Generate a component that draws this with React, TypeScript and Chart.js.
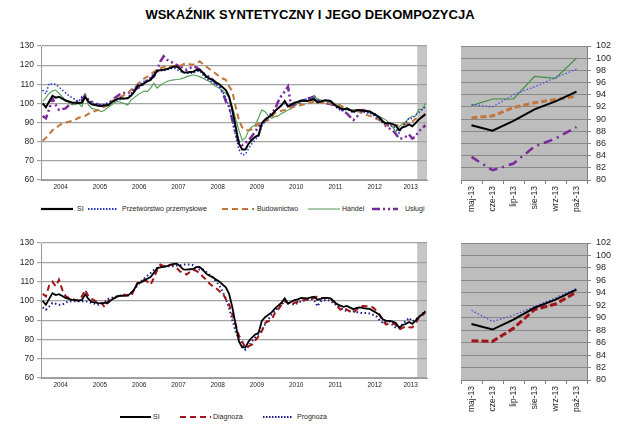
import React, { useEffect, useRef } from 'react';
import { Chart, registerables } from 'chart.js';
Chart.register(...registerables);

// ---------- DATA ----------
const years = ['2004', '2005', '2006', '2007', '2008', '2009', '2010', '2011', '2012', '2013'];
// centre of each year's group of monthly categories (Jan 2004 = 0 ... Oct 2013 = 117)
const yearCenters = [5.5, 17.5, 29.5, 41.5, 53.5, 65.5, 77.5, 89.5, 101.5, 112.5];
const lastMonths = ['maj-13', 'cze-13', 'lip-13', 'sie-13', 'wrz-13', 'paź-13'];

const si = [
  100, 98, 101, 104, 103, 103.5, 102.5, 101.5, 101, 100.5, 100.4, 100.2,
  100.5, 103.4, 101, 99.5, 99.2, 98.8, 98.7, 99, 99, 100.5, 101.5, 102.5,
  102.7, 102.6, 102.7, 104, 106, 109, 109.5, 110.5, 111.5, 112.3, 114.5, 117,
  117.4, 117.6, 118, 118.6, 119.2, 119.3, 118, 116.3, 116.2, 116.4, 116.5, 117.5,
  117.6, 116, 114.1, 113, 112.3, 111, 110, 108.5, 107, 103.6, 96.6, 87.8,
  79, 75.9, 75.9, 79, 81, 82.6, 83.4, 89.6, 91.5, 92.8, 94, 96,
  97.5, 99, 101.3, 98.5, 99.5, 100.4, 100.8, 101.5, 101.4, 101.3, 101.8, 102.2,
  100.6, 101, 101.5, 101.5, 101.3, 99.7, 98.3, 97.5, 96.9, 97.4, 96.5, 95.7,
  96.4, 96.6, 96.2, 96, 95.8, 94.8, 93.8, 92.7, 90.5, 89.6, 89.6, 89.2,
  88.5, 86, 87.5, 88, 89.0, 88.1, 89.7, 91.6, 92.9, 94.5,
];
const przetworstwo = [
  107, 105, 110.5, 110, 110, 108.5, 107, 105.5, 104, 103, 102, 101,
  103.5, 102.5, 101.5, 100.5, 99.5, 99.7, 99.2, 99.5, 100.5, 101, 101.5, 102,
  102, 102.5, 103, 105, 108, 109.7, 110.5, 111.5, 112.3, 113.5, 115.8, 116.5,
  117, 117.2, 117.6, 118, 118.5, 117.8, 116.7, 116, 115.8, 115.5, 116, 116.5,
  117, 115, 113, 112, 111, 110, 108.5, 106, 103, 98, 91, 83,
  76, 73, 73.5, 76.5, 79, 81, 83, 88, 90.5, 92.5, 94, 96,
  97.5, 99, 100, 98.5, 99, 100, 101, 101.5, 102, 102.5, 103, 102.5,
  101.5, 101, 101.5, 102, 101, 99.5, 97.5, 96.5, 96, 97, 96, 95,
  96.5, 96, 95.5, 95, 95, 94, 92.5, 91.5, 89.5, 89, 88.5, 88,
  87, 84.5, 88, 90, 92.4, 92.0, 94.0, 95.3, 96.8, 98.2,
];
const budownictwo = [
  80.5, 82, 84, 86, 87, 88.5, 89.5, 90, 90.4, 91, 91.5, 92.5,
  93, 93.5, 94.5, 95.5, 96, 96.5, 97.5, 98.3, 99.5, 101, 102, 102.7,
  103.5, 104.5, 105.5, 107, 108.5, 110, 111.5, 113, 114, 115, 116.5, 117.5,
  118.4, 119, 119.7, 119.5, 119.5, 119.3, 119.5, 120.5, 121, 120.5, 120.2, 121,
  122, 120.5, 119.3, 118, 116.7, 115.5, 114, 113, 112.3, 109, 106.2, 98.3,
  91.5, 87.5, 86, 86, 86.5, 87.8, 89.5, 90.4, 90.8, 91.3, 93, 95,
  95.7, 96.2, 96.6, 97.5, 98, 98.3, 98.8, 99.2, 99.5, 100, 100.5, 101,
  100.8, 100.5, 100.2, 100, 100, 99.8, 99.7, 99, 98, 97, 96.6, 96.2,
  95.9, 95.7, 95, 94, 93.5, 93, 92, 91.3, 90, 88.7, 88, 87.8,
  88.5, 88.7, 88.7, 89.5, 90.2, 90.5, 91.9, 92.7, 93.2, 93.8,
];
const handel = [
  101, 103, 105.3, 106.5, 107, 105.3, 103.5, 101.8, 100.5, 99.2, 99.5, 100,
  98.3, 104.4, 99.2, 97.4, 97, 96.5, 95.7, 96.6, 98, 99.2, 100.5, 101,
  100.5, 100, 99.2, 101.8, 103, 104.4, 105.5, 106.5, 106.2, 108, 110.6, 108,
  109.5, 110.6, 111.5, 112, 112.3, 112.5, 112.8, 113.2, 114, 114.5, 115, 114.5,
  114, 113.2, 112.3, 111.5, 110, 108.8, 108, 106.5, 105.3, 103, 98.3, 92,
  86, 80.8, 82, 86, 87.8, 88.7, 92.5, 96.6, 95.7, 93.5, 92.2, 93.1,
  93.5, 94.8, 95.5, 96.5, 97.4, 98.5, 100, 101, 101, 101.5, 101.8, 103.6,
  102.5, 101.8, 101.5, 101, 100.5, 100, 99.2, 98, 97.4, 97.2, 96.9, 96.8,
  96.7, 96.6, 96.2, 95.7, 95, 94.5, 94, 93, 92.2, 91.3, 89.6, 87.5,
  85.2, 87.8, 89.6, 90.5, 92.2, 93.3, 93.3, 97.0, 96.7, 100.0,
];
const uslugi = [
  93.4, 92.2, 97, 102.7, 99.2, 96.6, 97, 97.4, 99, 100, 100.5, 101.5,
  101.8, 104.4, 101.8, 101, 100, 99.3, 98.7, 99.2, 100, 101.2, 102.7, 104,
  105.3, 105.5, 105.3, 106, 107, 108, 108.8, 110.5, 112.3, 113, 114, 117.6,
  122, 124.6, 122.8, 122, 121, 120, 119.3, 118.5, 117.6, 118.5, 119.3, 118.8,
  117.6, 115.8, 115, 113.5, 112.3, 110.5, 108.8, 106, 101, 98.3, 91.3, 84.3,
  80, 78.2, 79.5, 80.8, 83, 85.2, 87.8, 89.5, 91.3, 93, 94.8, 97,
  101, 104, 106.2, 108.8, 98.3, 99.5, 100, 100.8, 101.8, 102.5, 103, 103.6,
  102, 101, 100.5, 100, 99.7, 99.2, 98.5, 97.4, 96, 94.8, 93, 91.3,
  93, 94.8, 96.6, 96, 95.7, 94.8, 94, 92, 90.4, 88, 86.9, 86,
  84, 81.7, 81.7, 82.6, 83.8, 81.6, 82.7, 85.5, 86.8, 88.7,
];
const diagnoza = [
  103.6, 102.3, 108, 110, 107.5, 111, 105.8, 102.5, 101.5, 101, 100.5, 100,
  102.3, 105.8, 102.3, 101, 100.1, 99.5, 98.9, 96.6, 99.8, 101, 101.5, 102.3,
  102.9, 103.2, 103, 102.3, 105.8, 109.3, 109.5, 111, 110, 108.4, 111.9, 116,
  118.8, 118, 117.9, 118.8, 118.5, 117, 115.3, 114.5, 113.6, 115, 116.2, 115.5,
  114.4, 112.5, 111, 109, 107.5, 106.7, 105, 104, 101, 98, 93, 87.7,
  82, 79, 75.6, 76.5, 77.3, 79.5, 81.6, 84.2, 88.5, 89.5, 90.2, 93.7,
  95.5, 98, 99.8, 99, 98, 99, 99.5, 99.8, 100.6, 100.6, 100.8, 101.5,
  102.3, 101.5, 101.5, 101.5, 101, 99.8, 97.5, 95.4, 96.3, 95.5, 94.5, 93.7,
  95.5, 97.2, 97.3, 97.2, 97, 96.6, 95, 92.8, 89.5, 87.7, 88.5, 88.5,
  87.5, 85.1, 86, 86.8, 86.3, 86.2, 88.3, 91.3, 92.2, 94.1,
];
const prognoza = [
  96.6, 95.4, 97, 98.9, 98.5, 98, 98, 99, 99.8, 99.8, 99.8, 99.8,
  99.8, 99.8, 99.5, 98.9, 98.5, 98, 98.9, 99.5, 101, 101.5, 102, 102.3,
  102.8, 103.2, 103, 104, 105.8, 108, 110.1, 111.5, 113, 114.4, 116, 117,
  117.5, 117.9, 118, 118, 117.9, 118.3, 118.5, 118.8, 118.8, 118.8, 118.5, 117,
  116.2, 116.2, 115, 113.6, 112, 110.1, 108, 104.9, 101, 96.3, 90, 84.2,
  80, 77.3, 74.7, 76.5, 79, 81, 82.5, 85, 87.7, 90.5, 92.8, 94.6,
  96.5, 98, 99.8, 99.5, 98.5, 98, 99, 99.8, 100.2, 100.6, 101, 100.6,
  97.2, 99.8, 100.2, 100.6, 99.8, 98.9, 97.5, 96.3, 95.5, 94.6, 94.6, 94.6,
  94.2, 93.7, 93.7, 93.7, 93.5, 92.8, 92, 90, 88.5, 89, 89.3, 87.5,
  85.9, 86.5, 87.7, 89.5, 91.2, 89.4, 90.4, 91.8, 93.2, 94.7,
];

// ---------- HELPERS ----------
const FONT = "'Liberation Sans', Arial, sans-serif";
const TXT = '#262626';
const pts = (arr: number[]) => arr.map((y, i) => ({ x: i, y }));
const tail = (arr: number[]) => arr.slice(-lastMonths.length);

const bgPlugin = {
  id: 'bgfill',
  beforeDraw(chart: any, _args: any, opts: any) {
    const { ctx, chartArea } = chart;
    if (!chartArea) return;
    ctx.save();
    if (opts.panel) {
      ctx.fillStyle = opts.panel;
      ctx.fillRect(chartArea.left, chartArea.top, chartArea.right - chartArea.left, chartArea.bottom - chartArea.top);
    }
    if (opts.shadeFrom !== undefined) {
      const xs = chart.scales.x;
      const a = xs.getPixelForValue(opts.shadeFrom);
      const b = xs.getPixelForValue(opts.shadeTo);
      ctx.fillStyle = opts.shadeColor;
      ctx.fillRect(a, chartArea.top, b - a, chartArea.bottom - chartArea.top);
    }
    ctx.restore();
  },
};

function mainConfig(datasets: any[], topPad: number) {
  return {
    type: 'line',
    data: { datasets },
    options: {
      animation: false,
      responsive: false,
      devicePixelRatio: 1,
      layout: { padding: { left: 0, right: 13, top: topPad, bottom: 0 } },
      elements: { point: { radius: 0 }, line: { tension: 0 } },
      plugins: {
        legend: { display: false },
        tooltip: { enabled: false },
        bgfill: { shadeFrom: 114.5, shadeTo: 117.5, shadeColor: '#c6c6c6' },
      },
      scales: {
        x: {
          type: 'linear',
          min: -0.5,
          max: 117.5,
          afterBuildTicks: (s: any) => {
            s.ticks = yearCenters.map((v) => ({ value: v }));
          },
          afterFit: (s: any) => {
            s.height = 20;
          },
          ticks: {
            autoSkip: false,
            maxRotation: 0,
            padding: 3,
            color: TXT,
            font: { family: FONT, size: 6.5 },
            callback: (v: number) => {
              const k = yearCenters.indexOf(v);
              return k >= 0 ? years[k] : '';
            },
          },
          grid: { display: false, drawTicks: false },
          border: { color: '#9a9a9a', width: 1 },
        },
        y: {
          min: 60,
          max: 130,
          afterFit: (s: any) => {
            s.width = 41;
          },
          ticks: { stepSize: 10, autoSkip: false, padding: 3, color: TXT, font: { family: FONT, size: 8.5 } },
          grid: { color: '#a3a3a3', lineWidth: 1.2, tickLength: 4 },
          border: { color: '#9a9a9a', width: 1 },
        },
      },
    },
    plugins: [bgPlugin],
  };
}

function sideConfig(datasets: any[], topPad: number) {
  return {
    type: 'line',
    data: { labels: lastMonths, datasets },
    options: {
      animation: false,
      responsive: false,
      devicePixelRatio: 1,
      layout: { padding: { left: 21, right: 0, top: topPad, bottom: 0 } },
      elements: { point: { radius: 0 }, line: { tension: 0 } },
      plugins: {
        legend: { display: false },
        tooltip: { enabled: false },
        bgfill: { panel: '#bdbdbd' },
      },
      scales: {
        x: {
          type: 'category',
          offset: true,
          afterFit: (s: any) => {
            s.height = 45;
          },
          ticks: {
            autoSkip: false,
            maxRotation: 90,
            minRotation: 90,
            padding: 2,
            color: TXT,
            font: { family: FONT, size: 8.5 },
          },
          grid: { offset: true, drawOnChartArea: false, tickLength: 4, color: '#808080' },
          border: { color: '#808080', width: 1 },
        },
        y: {
          position: 'right',
          min: 80,
          max: 102,
          afterFit: (s: any) => {
            s.width = 53;
          },
          ticks: { stepSize: 2, autoSkip: false, padding: 5, color: TXT, font: { family: FONT, size: 9 } },
          grid: { color: '#8a8a8a', lineWidth: 1, tickLength: 4 },
          border: { color: '#808080', width: 1 },
        },
      },
    },
    plugins: [bgPlugin],
  };
}

function ChartCanvas({ config, left, top, width, height }: any) {
  const ref = useRef<HTMLCanvasElement>(null);
  useEffect(() => {
    const chart = new Chart(ref.current as HTMLCanvasElement, config as any);
    return () => chart.destroy();
  }, []);
  return (
    <canvas
      ref={ref}
      width={width}
      height={height}
      style={{ position: 'absolute', left, top, width, height }}
    />
  );
}

function LegendItem({ x1, x2, y, color, dash, w, label, tx }: any) {
  return (
    <>
      <svg
        width={x2 - x1}
        height={8}
        style={{ position: 'absolute', left: x1, top: y - 4, overflow: 'visible' }}
      >
        <line x1={0} y1={4} x2={x2 - x1} y2={4} stroke={color} strokeWidth={w} strokeDasharray={dash} />
      </svg>
      <span
        style={{
          position: 'absolute',
          left: tx,
          top: y - 5,
          fontSize: 7,
          lineHeight: '10px',
          fontFamily: FONT,
          color: TXT,
          whiteSpace: 'nowrap',
        }}
      >
        {label}
      </span>
    </>
  );
}

// series styles
const C_SI = '#000000';
const C_PRZ = '#2233c8';
const C_BUD = '#c0753a';
const C_HAN = '#4f9b52';
const C_USL = '#7a2a9a';
const C_DIA = '#a3141a';
const C_PRO = '#1c1c8a';

const topMain = () =>
  mainConfig(
    [
      { data: pts(si), borderColor: C_SI, borderWidth: 2 },
      { data: pts(przetworstwo), borderColor: C_PRZ, borderWidth: 1.5, borderDash: [1.5, 2] },
      { data: pts(budownictwo), borderColor: C_BUD, borderWidth: 2, borderDash: [6, 4] },
      { data: pts(handel), borderColor: C_HAN, borderWidth: 1.1 },
      { data: pts(uslugi), borderColor: C_USL, borderWidth: 2.5, borderDash: [8, 3, 2, 3, 2, 3] },
    ],
    16
  );
const topSide = () =>
  sideConfig(
    [
      { data: tail(si), borderColor: C_SI, borderWidth: 2 },
      { data: tail(przetworstwo), borderColor: '#4a4ae0', borderWidth: 1.3, borderDash: [1.5, 2] },
      { data: tail(budownictwo), borderColor: C_BUD, borderWidth: 3, borderDash: [6, 3] },
      { data: tail(handel), borderColor: '#3f8f42', borderWidth: 1.2 },
      { data: tail(uslugi), borderColor: C_USL, borderWidth: 2.5, borderDash: [9, 5, 2, 5] },
    ],
    16
  );
const botMain = () =>
  mainConfig(
    [
      { data: pts(si), borderColor: C_SI, borderWidth: 1.8 },
      { data: pts(diagnoza), borderColor: C_DIA, borderWidth: 2, borderDash: [6, 4] },
      { data: pts(prognoza), borderColor: C_PRO, borderWidth: 2, borderDash: [1.5, 2.5] },
    ],
    13
  );
const botSide = () =>
  sideConfig(
    [
      { data: tail(si), borderColor: C_SI, borderWidth: 2 },
      { data: tail(diagnoza), borderColor: C_DIA, borderWidth: 3, borderDash: [7, 3] },
      { data: tail(prognoza), borderColor: '#4848d8', borderWidth: 1.3, borderDash: [1.5, 2] },
    ],
    13
  );

export default function App() {
  return (
    <div
      style={{
        position: 'absolute',
        left: 0,
        top: 0,
        width: 640,
        height: 425,
        background: '#ffffff',
        overflow: 'hidden',
      }}
    >
      <div
        style={{
          position: 'absolute',
          left: 0,
          top: 7,
          width: 620,
          textAlign: 'center',
          fontFamily: FONT,
          fontWeight: 'bold',
          fontSize: 13,
          lineHeight: '16px',
          color: '#000',
        }}
      >
        WSKAŹNIK SYNTETYCZNY I JEGO DEKOMPOZYCJA
      </div>

      <ChartCanvas config={topMain()} left={0} top={30} width={440} height={170} />
      <ChartCanvas config={topSide()} left={440} top={30} width={200} height={195} />
      <ChartCanvas config={botMain()} left={0} top={230} width={440} height={168} />
      <ChartCanvas config={botSide()} left={440} top={230} width={200} height={195} />

      <LegendItem x1={41} x2={73} y={209} color={C_SI} w={2.2} label="SI" tx={77} />
      <LegendItem x1={88} x2={118} y={209} color={C_PRZ} w={2} dash="1.5 1.5" label="Przetwórstwo przemysłowe" tx={122} />
      <LegendItem x1={222} x2={254} y={209} color={C_BUD} w={2} dash="6 4" label="Budownictwo" tx={257} />
      <LegendItem x1={308} x2={340} y={209} color={C_HAN} w={1} label="Handel" tx={342} />
      <LegendItem x1={372} x2={398} y={209} color={C_USL} w={2.5} dash="8 3 2 3 2 3" label="Usługi" tx={405} />

      <LegendItem x1={120} x2={151} y={417} color={C_SI} w={2} label="SI" tx={153} />
      <LegendItem x1={180} x2={211} y={417} color={C_DIA} w={2} dash="6 4" label="Diagnoza" tx={213} />
      <LegendItem x1={263} x2={293} y={417} color={C_PRO} w={2} dash="1.5 1.5" label="Prognoza" tx={297} />
    </div>
  );
}
